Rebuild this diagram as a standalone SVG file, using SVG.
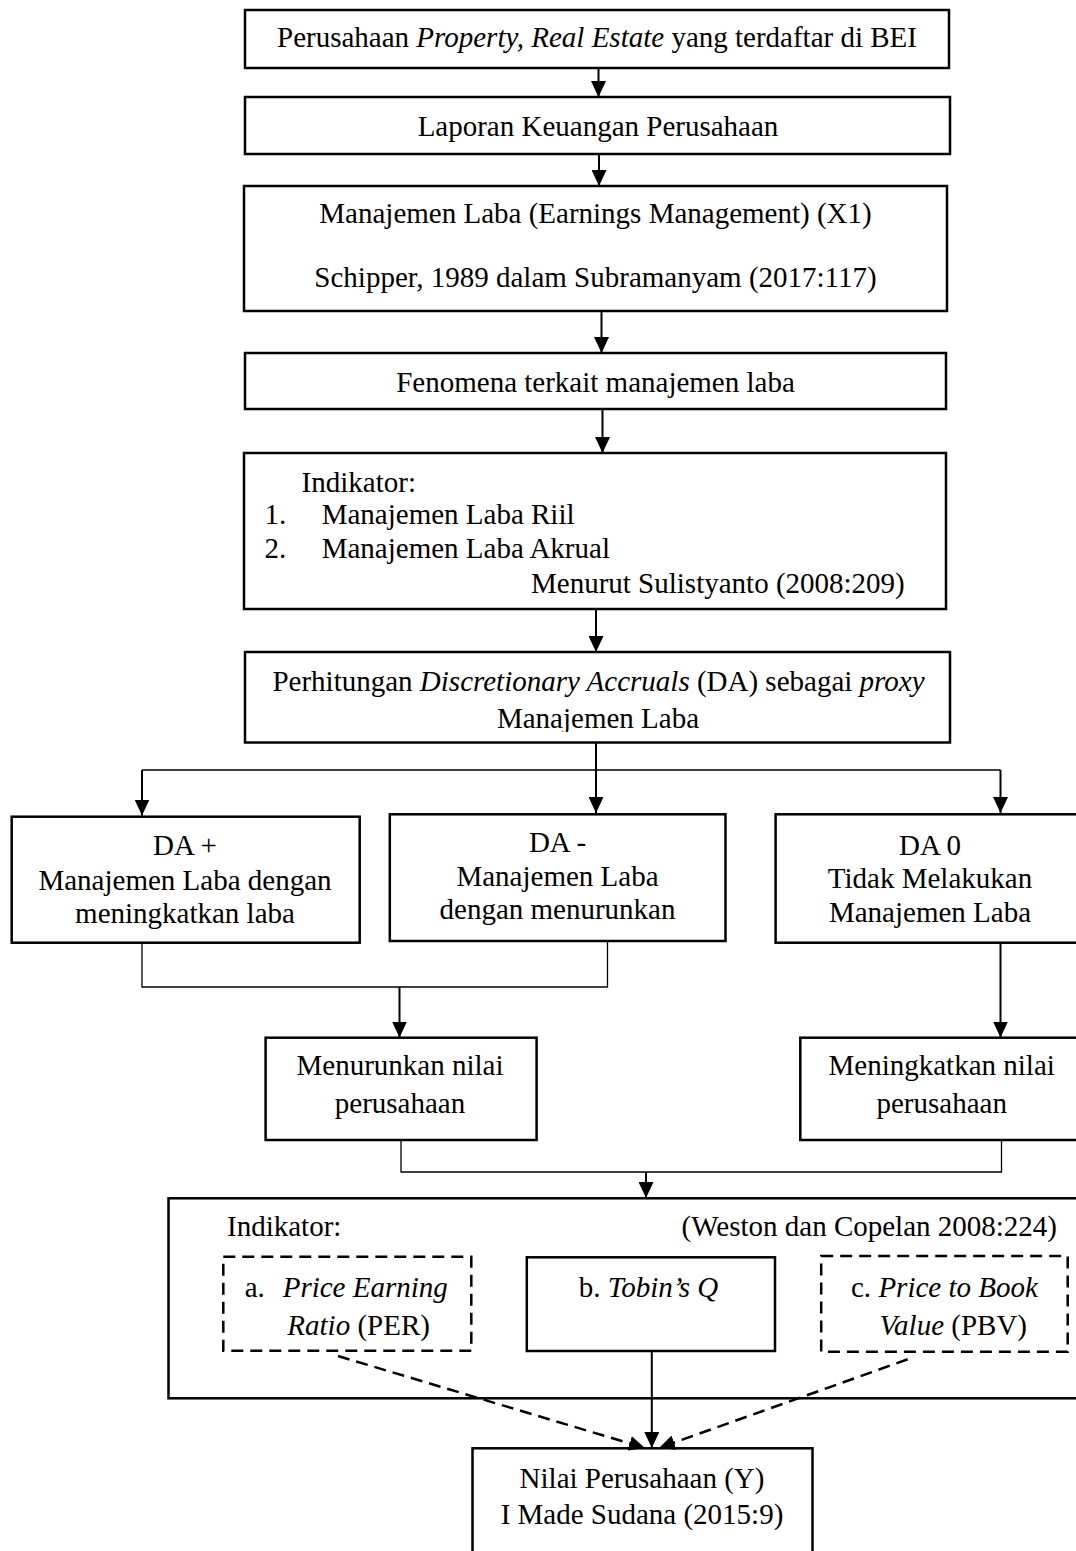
<svg xmlns="http://www.w3.org/2000/svg" width="1076" height="1551" viewBox="0 0 1076 1551">
<style>
text{font-family:"Liberation Serif","Times New Roman",serif;font-size:29px;fill:#000}
.c{text-anchor:middle}
.e{text-anchor:end}
.i{font-style:italic}
.box{fill:#fff;stroke:#000;stroke-width:2.5}
.dbox{fill:#fff;stroke:#000;stroke-width:2.5;stroke-dasharray:12,7}
.arr{fill:none;stroke:#000;stroke-width:2;marker-end:url(#ah)}
.darr{fill:none;stroke:#000;stroke-width:2.5;stroke-dasharray:12,7;marker-end:url(#ah)}
.thin{fill:none;stroke:#000;stroke-width:1.3}
</style>
<defs>
<marker id="ah" markerUnits="userSpaceOnUse" markerWidth="16" markerHeight="15" refX="16" refY="7.5" orient="auto" viewBox="0 0 16 15">
<path d="M0,0 L16,7.5 L0,15 z" fill="#000" stroke="none"/>
</marker>
<clipPath id="clip6"><rect x="245" y="652" width="706" height="80"/></clipPath>
</defs>
<rect width="1076" height="1551" fill="#fff"/>

<g id="n1">
<rect class="box" x="245" y="10" width="704" height="58"/>
<text class="c" x="597" y="47">Perusahaan <tspan class="i">Property, Real Estate</tspan> yang terdaftar di BEI</text>
</g>
<g id="n2">
<rect class="box" x="245" y="97" width="705" height="57"/>
<text class="c" x="598" y="136">Laporan Keuangan Perusahaan</text>
</g>
<g id="n3">
<rect class="box" x="244" y="186" width="703" height="125"/>
<text class="c" x="595.5" y="223">Manajemen Laba (Earnings Management) (X1)</text>
<text class="c" x="595.5" y="287">Schipper, 1989 dalam Subramanyam (2017:117)</text>
</g>
<g id="n4">
<rect class="box" x="245" y="353" width="701" height="56"/>
<text class="c" x="595.5" y="392">Fenomena terkait manajemen laba</text>
</g>
<g id="n5">
<rect class="box" x="244" y="453" width="702" height="156"/>
<text x="301.6" y="492">Indikator:</text>
<text x="264.5" y="524">1.</text>
<text x="321.7" y="524">Manajemen Laba Riil</text>
<text x="264.5" y="558">2.</text>
<text x="321.7" y="558">Manajemen Laba Akrual</text>
<text x="531" y="592.5">Menurut Sulistyanto (2008:209)</text>
</g>
<g id="n6">
<rect class="box" x="245" y="652" width="705" height="90.5"/>
<text class="c" x="598.5" y="690.5">Perhitungan <tspan class="i">Discretionary Accruals</tspan> (DA) sebagai <tspan class="i">proxy</tspan></text>
<text class="c" x="598" y="728" clip-path="url(#clip6)">Manajemen Laba</text>
</g>
<g id="n7">
<rect class="box" x="11.7" y="816.7" width="348" height="126"/>
<text class="c" x="185" y="855">DA +</text>
<text class="c" x="185" y="890">Manajemen Laba dengan</text>
<text class="c" x="185" y="923">meningkatkan laba</text>
</g>
<g id="n8">
<rect class="box" x="389.8" y="814.3" width="335.7" height="126.7"/>
<text class="c" x="557.5" y="851.7">DA -</text>
<text class="c" x="557.5" y="886">Manajemen Laba</text>
<text class="c" x="557.5" y="919.3">dengan menurunkan</text>
</g>
<g id="n9">
<rect class="box" x="775.6" y="814.3" width="302" height="128.4"/>
<text class="c" x="930" y="855">DA 0</text>
<text class="c" x="930" y="887.7">Tidak Melakukan</text>
<text class="c" x="930" y="922">Manajemen Laba</text>
</g>
<g id="n10">
<rect class="box" x="265.6" y="1037.7" width="271" height="102.3"/>
<text class="c" x="400" y="1075">Menurunkan nilai</text>
<text class="c" x="400" y="1113">perusahaan</text>
</g>
<g id="n11">
<rect class="box" x="800.3" y="1037.7" width="277" height="102.3"/>
<text class="c" x="941.7" y="1075">Meningkatkan nilai</text>
<text class="c" x="941.7" y="1113">perusahaan</text>
</g>
<g id="n12">
<rect class="box" x="168.5" y="1198.3" width="909" height="200"/>
<text x="227" y="1236">Indikator:</text>
<text class="e" x="1057" y="1236">(Weston dan Copelan 2008:224)</text>
</g>
<g id="n13">
<rect class="dbox" x="223.3" y="1256.7" width="248" height="94"/>
<text x="244.7" y="1296.7">a.  <tspan class="i" x="282.7">Price Earning</tspan></text>
<text x="287.3" y="1335"><tspan class="i">Ratio</tspan> (PER)</text>
</g>
<g id="n14">
<rect class="box" x="526.8" y="1257.3" width="248.2" height="93.7"/>
<text x="578.8" y="1296.7">b. <tspan class="i">Tobin’s Q</tspan></text>
</g>
<g id="n15">
<rect class="dbox" x="821.2" y="1256" width="246.5" height="95.7"/>
<text x="851" y="1296.7">c. <tspan class="i">Price to Book</tspan></text>
<text x="879.6" y="1335"><tspan class="i">Value</tspan> (PBV)</text>
</g>
<g id="n16">
<rect class="box" x="472.5" y="1448.3" width="340" height="120"/>
<text class="c" x="642" y="1488">Nilai Perusahaan (Y)</text>
<text class="c" x="642" y="1524">I Made Sudana (2015:9)</text>
</g>

<g id="connectors">
<line class="arr" x1="598.5" y1="68" x2="598.5" y2="97"/>
<line class="arr" x1="599" y1="154" x2="599" y2="186"/>
<line class="arr" x1="601.5" y1="311" x2="601.5" y2="353"/>
<line class="arr" x1="602.5" y1="409" x2="602.5" y2="453"/>
<line class="arr" x1="596" y1="609" x2="596" y2="652"/>
<line class="arr" x1="596" y1="742.5" x2="596" y2="813"/>
<line class="thin" x1="142" y1="770" x2="1000.5" y2="770"/>
<line class="arr" x1="142" y1="770" x2="142" y2="815.5"/>
<line class="arr" x1="1000.5" y1="770" x2="1000.5" y2="813"/>
<polyline class="thin" points="142,942.7 142,987 607.5,987 607.5,941"/>
<line class="arr" x1="399.5" y1="987" x2="399.5" y2="1037.5"/>
<line class="arr" x1="1000.5" y1="942.7" x2="1000.5" y2="1037.5"/>
<polyline class="thin" points="401,1140 401,1172 1001.5,1172 1001.5,1140"/>
<line class="arr" x1="646" y1="1172" x2="646" y2="1198"/>
<line class="arr" x1="651.8" y1="1351" x2="651.8" y2="1448"/>
<line class="darr" x1="338" y1="1356" x2="645" y2="1448"/>
<line class="darr" x1="907.7" y1="1359.3" x2="659" y2="1448"/>
</g>
</svg>
